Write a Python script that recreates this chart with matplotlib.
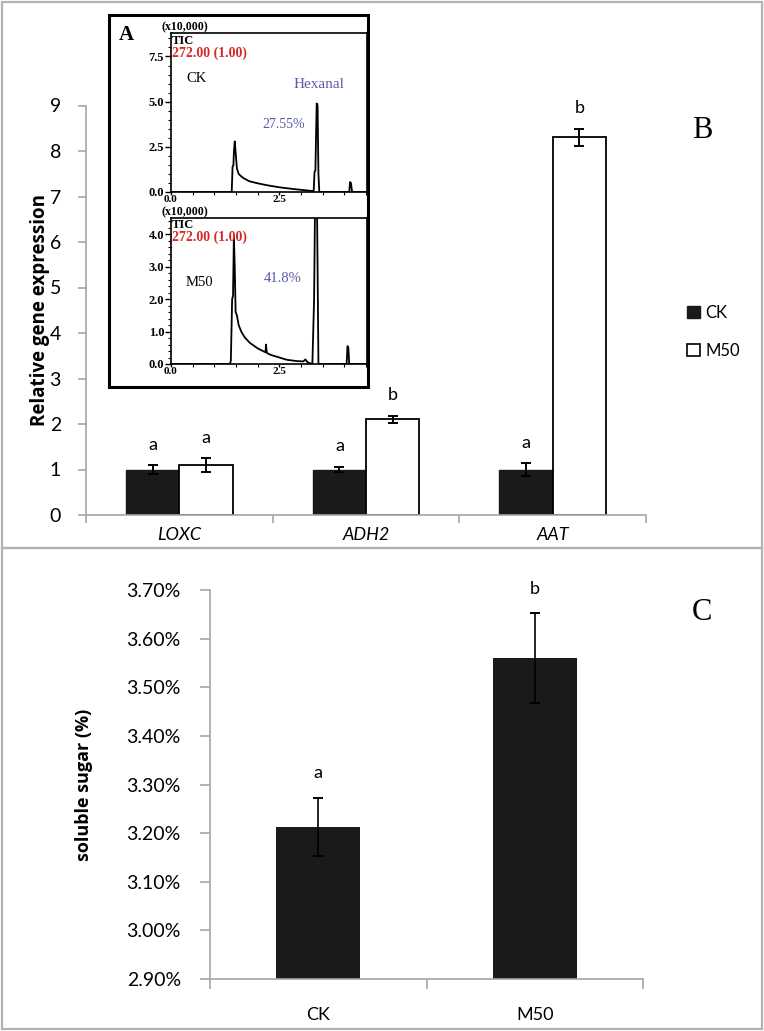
import numpy as np
import matplotlib
matplotlib.use("Agg")
import matplotlib.pyplot as plt
from matplotlib.patches import Rectangle, Patch
from matplotlib.ticker import MultipleLocator, FormatStrFormatter, FuncFormatter

# --- panel B: relative gene expression ---
genes = ["LOXC", "ADH2", "AAT"]
ck_expr = [1.0, 1.0, 1.0]
ck_err = [0.09, 0.06, 0.14]
m50_expr = [1.1, 2.1, 8.3]
m50_err = [0.15, 0.08, 0.19]
ck_sig = ["a", "a", "a"]
m50_sig = ["a", "b", "b"]

# --- panel C: soluble sugar ---
groups = ["CK", "M50"]
sugar = [3.213, 3.560]
sugar_err = [0.060, 0.093]
sugar_sig = ["a", "b"]

# --- panel A: chromatograms (time, x10,000 intensity) ---
ck_t = [0.0, 1.40, 1.42, 1.44, 1.45, 1.47, 1.49, 1.52, 1.56, 1.65, 1.8, 2.0, 2.2, 2.5, 2.8,
        3.0, 3.2, 3.29, 3.31, 3.33, 3.36, 3.38, 3.40, 3.42, 4.11, 4.13, 4.15, 4.17, 4.19, 4.6]
ck_i = [0.0, 0.0, 1.4, 1.5, 2.2, 2.8, 2.2, 1.3, 1.0, 0.8, 0.6, 0.48, 0.38, 0.26, 0.17,
        0.12, 0.07, 0.05, 1.1, 1.2, 4.9, 4.8, 1.0, 0.0, 0.0, 0.55, 0.5, 0.1, 0.0, 0.0]
m50_t = [0.0, 1.36, 1.38, 1.41, 1.43, 1.45, 1.47, 1.49, 1.52, 1.56, 1.62, 1.7, 1.82, 2.0,
         2.18, 2.19, 2.21, 2.3, 2.5, 2.67, 2.9, 3.05, 3.1, 3.15, 3.26, 3.30, 3.33, 3.36,
         3.40, 4.05, 4.07, 4.09, 4.11, 4.6]
m50_i = [0.0, 0.0, 0.1, 2.0, 2.1, 3.9, 3.0, 1.6, 1.5, 1.2, 1.0, 0.82, 0.65, 0.48,
         0.36, 0.6, 0.34, 0.28, 0.2, 0.13, 0.09, 0.08, 0.14, 0.05, 0.0, 2.0, 6.0, 6.0,
         0.0, 0.0, 0.55, 0.5, 0.0, 0.0]

W, H = 764, 1031
fig = plt.figure(figsize=(W / 100, H / 100), dpi=100)
plt.rcParams["font.family"] = ["Lato", "DejaVu Sans"]


def rect(l, t, r, b):
    return [l / W, 1 - b / H, (r - l) / W, (b - t) / H]


grey = "#a6a6a6"

# panel frames
fig.add_artist(Rectangle((2 / W, 1 - 548 / H), 760 / W, 546 / H, transform=fig.transFigure,
                         fill=False, ec="#b3b3b3", lw=1.6))
fig.add_artist(Rectangle((2 / W, 1 - 1029 / H), 760 / W, 481 / H, transform=fig.transFigure,
                         fill=False, ec="#b3b3b3", lw=1.6))

# ---------------- panel B ----------------
axB = fig.add_axes(rect(86, 105.5, 646, 515))
x = np.arange(len(genes))
bw = 0.285
ekw = dict(elinewidth=1.4, capthick=1.4, ecolor="black")
axB.bar(x - bw / 2, ck_expr, bw, color="#1a1a1a", edgecolor="#1a1a1a",
        yerr=ck_err, capsize=3.5, error_kw=ekw, label="CK")
axB.bar(x + bw / 2, m50_expr, bw, color="white", edgecolor="black", linewidth=1.3,
        yerr=m50_err, capsize=3.5, error_kw=ekw, label="M50")
for i in range(len(genes)):
    axB.text(x[i] - bw / 2, ck_expr[i] + ck_err[i] + 0.45, ck_sig[i], ha="center",
             va="center", fontsize=13)
    axB.text(x[i] + bw / 2, m50_expr[i] + m50_err[i] + 0.45, m50_sig[i], ha="center",
             va="center", fontsize=13)
axB.set_xlim(-0.5, 2.5)
axB.set_ylim(0, 9)
axB.set_yticks(range(10))
axB.set_xticks([-0.5, 0.5, 1.5, 2.5])
axB.set_xticklabels([])
axB.set_xticks(x, minor=True)
axB.set_xticklabels(genes, minor=True, fontstyle="italic", fontsize=13)
axB.tick_params(axis="x", which="minor", length=0, pad=9)
axB.tick_params(axis="x", which="major", length=6, color=grey, width=1.2)
axB.tick_params(axis="y", length=6, color=grey, width=1.2, labelsize=14, pad=12)
for s in ["top", "right"]:
    axB.spines[s].set_visible(False)
for s in ["left", "bottom"]:
    axB.spines[s].set_color(grey)
    axB.spines[s].set_linewidth(1.2)
axB.set_ylabel("Relative gene expression", fontsize=13.5, fontweight="bold",
               family="Open Sans")
axB.yaxis.set_label_coords(-(86 - 50) / 560, 0.5)
axB.legend(handles=[Patch(fc="#1a1a1a", ec="#1a1a1a"), Patch(fc="white", ec="black", lw=1.2)],
           labels=["CK", "M50"], loc="center left", bbox_to_anchor=(672 / W, 1 - 332 / H),
           bbox_transform=fig.transFigure, frameon=False, fontsize=12, handlelength=0.75,
           handleheight=0.75, handletextpad=0.35, labelspacing=1.3)
fig.text(702 / W, 1 - 130 / H, "B", family="Liberation Serif", fontsize=22, ha="center",
         va="center")

# ---------------- panel C ----------------
axC = fig.add_axes(rect(210, 590, 643, 979))
xc = np.arange(len(groups))
axC.bar(xc, sugar, 0.39, color="#1a1a1a", yerr=sugar_err, capsize=3.5,
        error_kw=dict(elinewidth=1.2, capthick=1.4, ecolor="black"))
for i in range(len(groups)):
    axC.text(xc[i], sugar[i] + sugar_err[i] + 0.05, sugar_sig[i], ha="center", va="center",
             fontsize=13)
axC.set_xlim(-0.5, 1.5)
axC.set_ylim(2.9, 3.7)
axC.set_yticks(np.linspace(2.9, 3.7, 9))
axC.yaxis.set_major_formatter(FuncFormatter(lambda v, p: f"{v:.2f}%"))
axC.set_xticks([-0.5, 0.5, 1.5])
axC.set_xticklabels([])
axC.set_xticks(xc, minor=True)
axC.set_xticklabels(groups, minor=True, fontsize=13)
axC.tick_params(axis="x", which="minor", length=0, pad=20)
axC.tick_params(axis="x", which="major", length=7, color=grey, width=1.2)
axC.tick_params(axis="y", length=7, color=grey, width=1.2, labelsize=14, pad=14)
for s in ["top", "right"]:
    axC.spines[s].set_visible(False)
for s in ["left", "bottom"]:
    axC.spines[s].set_color(grey)
    axC.spines[s].set_linewidth(1.2)
axC.set_ylabel("soluble sugar (%)", fontsize=13, fontweight="bold", family="Open Sans")
axC.yaxis.set_label_coords(-(210 - 93) / 433, 0.5)
fig.text(702 / W, 1 - 612 / H, "C", family="Liberation Serif", fontsize=22, ha="center",
         va="center")

# ---------------- panel A (inset) ----------------
serif = "Liberation Serif"
blue = "#5a5aa8"
red = "#d42a2a"
fig.add_artist(Rectangle((109 / W, 1 - 387 / H), 259 / W, 372 / H, transform=fig.transFigure,
                         fill=False, ec="black", lw=2.2, zorder=5))

axCK = fig.add_axes(rect(171, 33, 367, 192))
axM = fig.add_axes(rect(171, 218, 367, 364))
for ax, t, i, ymax, ymaj, ymin in [(axCK, ck_t, ck_i, 8.8, 2.5, 0.5),
                                   (axM, m50_t, m50_i, 4.5, 1.0, 0.2)]:
    ax.set_zorder(3)
    ax.plot(t, i, color="black", lw=1.3)
    ax.set_xlim(0, 4.52)
    ax.set_ylim(0, ymax)
    ax.xaxis.set_major_locator(MultipleLocator(2.5))
    ax.xaxis.set_minor_locator(MultipleLocator(0.5))
    ax.yaxis.set_major_locator(MultipleLocator(ymaj))
    ax.yaxis.set_minor_locator(MultipleLocator(ymin))
    ax.xaxis.set_major_formatter(FormatStrFormatter("%.1f"))
    ax.yaxis.set_major_formatter(FormatStrFormatter("%.1f"))
    ax.tick_params(which="major", length=4, width=1, pad=1, labelsize=9)
    ax.tick_params(axis="x", which="major", length=2.5, pad=0, labelsize=8)
    ax.tick_params(which="minor", length=2, width=0.8)
    for lbl in ax.get_xticklabels() + ax.get_yticklabels():
        lbl.set_family(serif)
        lbl.set_fontweight("bold")
    for s in ax.spines.values():
        s.set_linewidth(1.2)
    ax.text(-0.05, 1.0, "(x10,000)", transform=ax.transAxes, family=serif, fontweight="bold",
            fontsize=8.5, va="bottom", ha="left")
    ax.text(0.005, 0.99, "TIC", transform=ax.transAxes, family=serif, fontweight="bold",
            fontsize=9, va="top", ha="left")
    ax.text(0.005, 0.915, "272.00 (1.00)", transform=ax.transAxes, family=serif,
            fontweight="bold", fontsize=10, color=red, va="top", ha="left")

fig.text(197 / W, 1 - 78 / H, "CK", family=serif, fontsize=10.5, ha="center", va="center")
fig.text(319 / W, 1 - 85 / H, "Hexanal", family=serif, fontsize=11, color=blue, ha="center",
         va="center")
fig.text(284 / W, 1 - 125 / H, "27.55%", family=serif, fontsize=10, color=blue, ha="center",
         va="center")
fig.text(199 / W, 1 - 282 / H, "M50", family=serif, fontsize=10.5, ha="center", va="center")
fig.text(283 / W, 1 - 278 / H, "41.8%", family=serif, fontsize=10.5, color=blue, ha="center",
         va="center")
fig.text(126 / W, 1 - 35 / H, "A", family=serif, fontweight="bold", fontsize=15, ha="center",
         va="center")

fig.savefig("out.png", dpi=100)
